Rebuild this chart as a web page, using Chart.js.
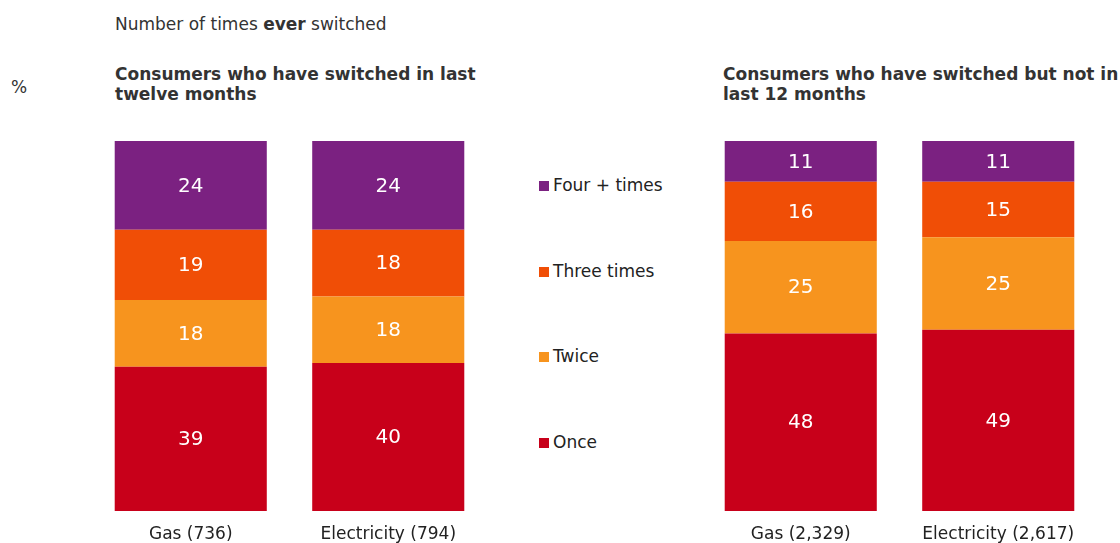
<!DOCTYPE html>
<html>
<head>
<meta charset="utf-8">
<script src="https://cdn.jsdelivr.net/npm/chart.js@4.4.1/dist/chart.umd.min.js"></script>
<style>
  body { margin: 0; width: 1120px; height: 543px; background: #fff; position: relative; overflow: hidden;
         font-family: "DejaVu Sans", Verdana, sans-serif; color: #333; }
  .txt { position: absolute; white-space: nowrap; }
  .subtitle { left: 115px; top: 14px; font-size: 17px; }
  .pct { left: 11px; top: 77px; font-size: 17px; }
  .panel-title { font-size: 17px; font-weight: bold; line-height: 20px; }
  .box { position: absolute; top: 141px; width: 395px; height: 402px; }
  .legend { position: absolute; left: 539px; font-size: 17px; color: #222; }
  .legend span.sw { display: inline-block; width: 10px; height: 10px; margin-right: 4px; }
</style>
</head>
<body>
<div class="txt subtitle">Number of times <b>ever</b> switched</div>
<div class="txt pct">%</div>
<div class="txt panel-title" style="left:115px; top:64px;">Consumers who have switched in last<br>twelve months</div>
<div class="txt panel-title" style="left:723px; top:64px;">Consumers who have switched but not in<br>last 12 months</div>
<div class="box" style="left:92px;"><canvas id="recentChart"></canvas></div>
<div class="box" style="left:702px;"><canvas id="earlierChart"></canvas></div>
<div id="legend"></div>

<script>
// Number of times switched, % of consumers
const seriesNames = ['Once', 'Twice', 'Three times', 'Four + times'];
const seriesColors = ['#c8001a', '#f7941e', '#f04e06', '#7b2181'];

const recentLabels = ['Gas (736)', 'Electricity (794)'];
const recentOnce = [39, 40];
const recentTwice = [18, 18];
const recentThree = [19, 18];
const recentFourPlus = [24, 24];

const earlierLabels = ['Gas (2,329)', 'Electricity (2,617)'];
const earlierOnce = [48, 49];
const earlierTwice = [25, 25];
const earlierThree = [16, 15];
const earlierFourPlus = [11, 11];

// writes the value in the middle of each segment
const segmentValues = {
    id: 'segmentValues',
    afterDatasetsDraw(chart) {
        const ctx = chart.ctx;
        ctx.save();
        ctx.fillStyle = '#fff';
        ctx.font = '20px "DejaVu Sans", Verdana, sans-serif';
        ctx.textAlign = 'center';
        ctx.textBaseline = 'middle';
        chart.data.datasets.forEach((ds, i) => {
            chart.getDatasetMeta(i).data.forEach((bar, j) => {
                const mid = (bar.y + bar.base) / 2;
                ctx.fillText(ds.data[j], bar.x, mid + 1);
            });
        });
        ctx.restore();
    }
};

function makeChart(id, labels, values) {
    const ctx = document.getElementById(id).getContext('2d');
    return new Chart(ctx, {
        type: 'bar',
        data: {
            labels: labels,
            datasets: values.map((v, i) => ({
                label: seriesNames[i],
                data: v,
                backgroundColor: seriesColors[i],
                borderWidth: 0,
                barPercentage: 0.77,
                categoryPercentage: 1.0
            }))
        },
        options: {
            responsive: true,
            maintainAspectRatio: false,
            animation: false,
            layout: { padding: 0 },
            plugins: {
                legend: { display: false },
                tooltip: { enabled: false }
            },
            scales: {
                x: {
                    stacked: true,
                    grid: { display: false, drawTicks: false },
                    border: { display: false },
                    ticks: {
                        color: '#222',
                        padding: 13,
                        font: { family: '"DejaVu Sans", Verdana, sans-serif', size: 17 }
                    },
                    afterFit: (scale) => { scale.height = 32; }
                },
                y: {
                    stacked: true,
                    display: false,
                    min: 0,
                    max: 100
                }
            }
        },
        plugins: [segmentValues]
    });
}

makeChart('recentChart', recentLabels, [recentOnce, recentTwice, recentThree, recentFourPlus]);
makeChart('earlierChart', earlierLabels, [earlierOnce, earlierTwice, earlierThree, earlierFourPlus]);

// legend, top entry first
const legendEl = document.getElementById('legend');
const legendTops = [175, 261, 346, 432];
seriesNames.slice().reverse().forEach((name, k) => {
    const idx = seriesNames.length - 1 - k;
    const item = document.createElement('div');
    item.className = 'legend';
    item.style.top = legendTops[k] + 'px';
    item.innerHTML = '<span class="sw" style="background:' + seriesColors[idx] + '"></span>' + name;
    legendEl.appendChild(item);
});
</script>
</body>
</html>
